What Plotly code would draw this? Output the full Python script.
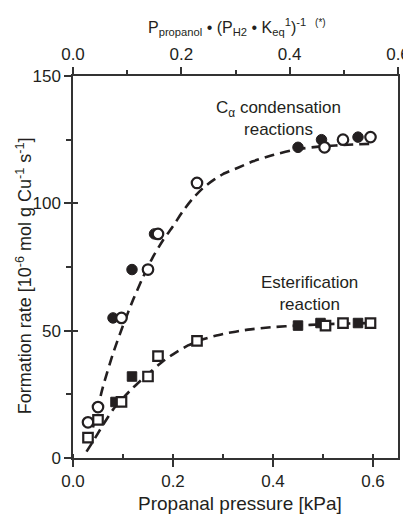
import plotly.graph_objects as go

# Cα condensation reactions (circles)
cond_filled_x = [0.08, 0.118, 0.163, 0.45, 0.497, 0.57]
cond_filled_y = [55, 74, 88, 122, 125, 126]
cond_open_x = [0.03, 0.05, 0.097, 0.15, 0.17, 0.248, 0.503, 0.54, 0.595]
cond_open_y = [14, 20, 55, 74, 88, 108, 122, 125, 126]
cond_fit_x = [0.04, 0.06, 0.08, 0.10, 0.12, 0.14, 0.16, 0.18, 0.20, 0.22, 0.24, 0.26,
              0.28, 0.30, 0.33, 0.36, 0.40, 0.45, 0.50, 0.55, 0.60]
cond_fit_y = [12, 28, 41, 52, 62, 71, 79, 85.5, 91, 97, 102, 106, 109, 111.5, 114,
              116.5, 119, 121.3, 122.4, 123, 123.4]

# Esterification reaction (squares)
est_filled_x = [0.085, 0.118, 0.45, 0.495, 0.57]
est_filled_y = [22, 32, 52, 53, 53]
est_open_x = [0.03, 0.05, 0.097, 0.15, 0.17, 0.248, 0.505, 0.54, 0.595]
est_open_y = [8, 15, 22, 32, 40, 46, 52, 53, 53]
est_fit_x = [0.027, 0.04, 0.06, 0.08, 0.10, 0.12, 0.15, 0.18, 0.20, 0.23, 0.26, 0.30,
             0.35, 0.40, 0.45, 0.50, 0.55, 0.60]
est_fit_y = [2.5, 6.5, 13, 19, 23.5, 27.6, 33, 38, 40.7, 44.2, 46.6, 48.7, 50.4, 51.4,
             52, 52.5, 52.8, 53]

x_ticks = [0.0, 0.2, 0.4, 0.6]
x_ticktext = ["0.0", "0.2", "0.4", "0.6"]
y_ticks = [0, 50, 100, 150]

FONT = "Arial, Liberation Sans, sans-serif"
INK = "#231f20"
AX = "#333333"

fig = go.Figure()

dash_line = dict(color=INK, width=2.6, dash="10px,6px", shape="spline", smoothing=0.6)
fig.add_trace(go.Scatter(x=cond_fit_x, y=cond_fit_y, mode="lines", line=dash_line,
                         showlegend=False, hoverinfo="skip"))
fig.add_trace(go.Scatter(x=est_fit_x, y=est_fit_y, mode="lines", line=dash_line,
                         showlegend=False, hoverinfo="skip"))

fig.add_trace(go.Scatter(x=cond_filled_x, y=cond_filled_y, mode="markers",
                         marker=dict(symbol="circle", size=10.5, color=INK,
                                     line=dict(color=INK, width=1)),
                         showlegend=False))
fig.add_trace(go.Scatter(x=cond_open_x, y=cond_open_y, mode="markers",
                         marker=dict(symbol="circle", size=10.5, color="white",
                                     line=dict(color=INK, width=2.2)),
                         showlegend=False))
fig.add_trace(go.Scatter(x=est_filled_x, y=est_filled_y, mode="markers",
                         marker=dict(symbol="square", size=9.5, color=INK,
                                     line=dict(color=INK, width=1)),
                         showlegend=False))
fig.add_trace(go.Scatter(x=est_open_x, y=est_open_y, mode="markers",
                         marker=dict(symbol="square", size=9.5, color="white",
                                     line=dict(color=INK, width=2.2)),
                         showlegend=False))

# dummy traces for the extra axes
fig.add_trace(go.Scatter(x=[0, 0.6], y=[None, None], xaxis="x2", mode="markers",
                         showlegend=False, hoverinfo="skip"))
fig.add_trace(go.Scatter(x=[None], y=[None], yaxis="y2", mode="markers",
                         showlegend=False, hoverinfo="skip"))

tickfont = dict(family=FONT, size=17, color=INK)
axis_common = dict(showline=True, linecolor=AX, linewidth=1.5, showgrid=False,
                   zeroline=False, ticks="outside", ticklen=7, tickwidth=1.5,
                   tickcolor=AX, tickfont=tickfont, automargin=False)

# page body has an 8px default margin, so the figure is sized to fit inside it
fig.update_layout(
    width=403, height=506,
    margin=dict(l=65, r=13, t=68, b=56),
    paper_bgcolor="white", plot_bgcolor="white",
    font=dict(family=FONT, color=INK),
    xaxis=dict(range=[0, 0.65], tickvals=x_ticks, ticktext=x_ticktext,
               minor=dict(dtick=0.1, tick0=0, ticks="inside", ticklen=4, tickwidth=1.5,
                          tickcolor=AX),
               **axis_common),
    xaxis2=dict(range=[0, 0.6], overlaying="x", side="top", anchor="y",
                tickvals=x_ticks, ticktext=x_ticktext,
                minor=dict(dtick=0.1, tick0=0, ticks="outside", ticklen=4, tickwidth=1.5,
                           tickcolor=AX),
                **axis_common),
    yaxis=dict(range=[0, 150], tickvals=y_ticks, mirror=True,
               minor=dict(dtick=25, tick0=0, ticks="outside", ticklen=5, tickwidth=1.5,
                          tickcolor=AX),
               **axis_common),
    yaxis2=dict(range=[0, 150], overlaying="y", side="left", anchor="x",
                tickvals=y_ticks, ticks="inside", ticklen=5, tickwidth=1.5, tickcolor=AX,
                showticklabels=False, showline=False, showgrid=False, zeroline=False,
                automargin=False),
    annotations=[
        dict(x=0.41, y=133.3, xref="x", yref="y", showarrow=False,
             text="C<sub>α</sub> condensation<br>reactions",
             font=dict(family=FONT, size=17, color=INK)),
        dict(x=0.472, y=64.4, xref="x", yref="y", showarrow=False,
             text="Esterification<br>reaction",
             font=dict(family=FONT, size=17, color=INK)),
        # bottom axis title
        dict(x=0.514, y=-0.12, xref="paper", yref="paper", showarrow=False,
             xanchor="center", yanchor="middle",
             text="Propanal pressure [kPa]",
             font=dict(family=FONT, size=19, color=INK)),
        # left axis title
        dict(x=-0.151, y=0.478, xref="paper", yref="paper", showarrow=False,
             xanchor="center", yanchor="middle", textangle=-90,
             text="Formation rate [10<sup>-6</sup> mol g Cu<sup>-1</sup> s<sup>-1</sup>]",
             font=dict(family=FONT, size=18, color=INK)),
        # top axis title
        dict(x=0.505, y=1.128, xref="paper", yref="paper", showarrow=False,
             xanchor="center", yanchor="middle",
             text="P<sub>propanol</sub> • (P<sub>H2</sub> • K<sub>eq</sub><sup>1</sup>)<sup>-1</sup>  <sup><span style='font-size:10px'>(*)</span></sup>",
             font=dict(family=FONT, size=16, color=INK)),
    ],
)

fig.write_html("out.html")
